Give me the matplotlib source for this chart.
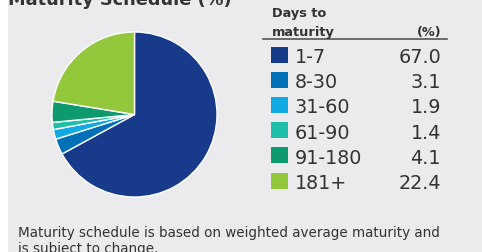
import matplotlib
matplotlib.use("Agg")
import matplotlib.pyplot as plt
from matplotlib.patches import Rectangle
from matplotlib.lines import Line2D

W, H = 482, 253

categories = ["1-7", "8-30", "31-60", "61-90", "91-180", "181+"]
values = [67.0, 3.1, 1.9, 1.4, 4.1, 22.4]
colors = ["#173a8b", "#0071b9", "#10a9e2", "#1fbeaa", "#0d9a6e", "#93c73c"]
title = "Maturity Schedule (%)"
footnote_lines = ["Maturity schedule is based on weighted average maturity and",
                  "is subject to change."]

BG = "#ebebed"
TXT = "#333333"


def fx(px):
    return px / W


def fy(py):
    return 1 - py / H


fig = plt.figure(figsize=(W / 100, H / 100), dpi=100, facecolor="white")
fig.add_artist(Rectangle((fx(8), 0), 1 - fx(8), 1, transform=fig.transFigure,
                         facecolor=BG, edgecolor="none", zorder=0))

# pie
cx, cy, r = 134.5, 115.5, 82.5
ax = fig.add_axes([fx(cx - r), fy(cy + r), 2 * r / W, 2 * r / H])
ax.pie(values, colors=colors, startangle=90, counterclock=False,
       wedgeprops=dict(edgecolor="white", linewidth=1.0))
ax.set_xlim(-1, 1)
ax.set_ylim(-1, 1)
ax.set_aspect("auto")
ax.axis("off")

# title (cut off at top in the source)
fig.text(fx(8), fy(5), title, ha="left", va="baseline",
         fontsize=12.8, fontweight="bold", color=TXT)

# legend table
fig.text(fx(272), fy(17), "Days to", ha="left", va="baseline",
         fontsize=9.3, fontweight="bold", color=TXT)
fig.text(fx(272), fy(36), "maturity", ha="left", va="baseline",
         fontsize=9.3, fontweight="bold", color=TXT)
fig.text(fx(441), fy(36), "(%)", ha="right", va="baseline",
         fontsize=9.3, fontweight="bold", color=TXT)
fig.add_artist(Line2D([fx(263), fx(447)], [fy(40), fy(40)],
                      transform=fig.transFigure, color="#555555", linewidth=1.2))

row0, step = 55.5, 25.2
for i, (cat, val, col) in enumerate(zip(categories, values, colors)):
    yc = row0 + i * step
    fig.add_artist(Rectangle((fx(271), fy(yc + 8)), 17 / W, 16 / H,
                             transform=fig.transFigure, facecolor=col,
                             edgecolor="none"))
    fig.text(fx(295), fy(yc + 7.5), cat, ha="left", va="baseline",
             fontsize=13.8, color=TXT)
    fig.text(fx(441), fy(yc + 7.5), f"{val:.1f}", ha="right", va="baseline",
             fontsize=13.8, color=TXT)

for j, line in enumerate(footnote_lines):
    fig.text(fx(18), fy(237 + 16 * j), line, ha="left", va="baseline",
             fontsize=9.75, color=TXT)

fig.savefig("out.png", dpi=100, facecolor="white")
